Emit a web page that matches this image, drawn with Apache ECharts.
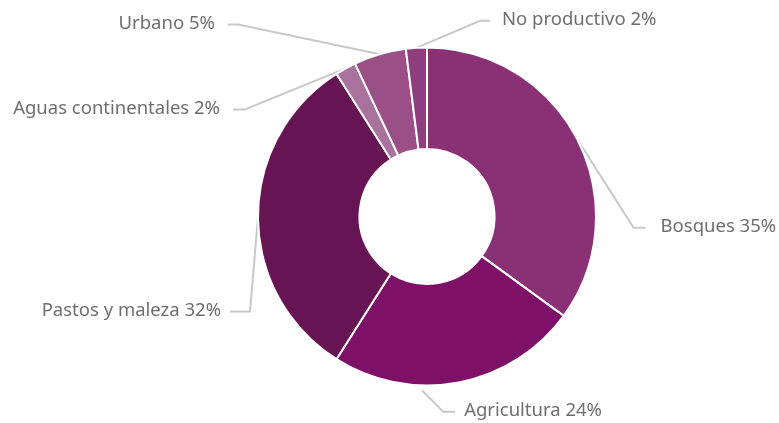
<!DOCTYPE html>
<html>
<head>
<meta charset="utf-8">
<script src="https://cdn.jsdelivr.net/npm/echarts@6/dist/echarts.min.js"></script>
<style>
html,body{margin:0;padding:0;background:#fff;}
#main{width:779px;height:423px;}
</style>
</head>
<body>
<div id="main"></div>
<script>
// ---- data ----
const categories = ['Bosques', 'Agricultura', 'Pastos y maleza', 'Aguas continentales', 'Urbano', 'No productivo'];
const values = [35, 24, 32, 2, 5, 2];
const colors = ['#8A3075', '#7E1068', '#661454', '#A9729D', '#9A5086', '#8E3D7E'];

// ---- layout / style ----
const CX = 427, CY = 216.5, R_OUT = 169, R_IN = 67.5;
// per label: connector start angle shift (deg), start pad, bend offset, horizontal length, text gap
const labelGuides = [
  { shift: 0,    pad: 0, bend: [56, 88],     horiz: 12,  gap: 15 },
  { shift: 12.4, pad: 5, bend: [21, 21.3],   horiz: 12,  gap: 9 },
  { shift: 0,    pad: 0, bend: [-8, 95],     horiz: -20, gap: 9 },
  { shift: 0,    pad: 0, bend: [-100.6, 41], horiz: -12, gap: 13 },
  { shift: 0,    pad: 0, bend: [-141.7, -29.7], horiz: -10.6, gap: 12.7 },
  { shift: 0,    pad: 0, bend: [63.6, -27.1], horiz: 10, gap: 12 }
];

const total = values.reduce((a, b) => a + b, 0);
const midAngles = [];
let acc = 0;
values.forEach(v => { midAngles.push((acc + v / 2) / total * 360); acc += v; });

const chart = echarts.init(document.getElementById('main'), null, { renderer: 'canvas' });

chart.setOption({
  backgroundColor: '#ffffff',
  animation: false,
  series: [{
    type: 'pie',
    center: [CX, CY],
    radius: [R_IN, R_OUT],
    startAngle: 90,
    clockwise: true,
    avoidLabelOverlap: false,
    itemStyle: { borderColor: '#ffffff', borderWidth: 2 },
    label: {
      show: true,
      position: 'outside',
      formatter: p => p.name + ' ' + p.value + '%',
      fontFamily: 'Noto Sans',
      fontSize: 18.5,
      color: '#6e6e6e'
    },
    labelLine: {
      show: true,
      lineStyle: { color: '#c8c8c8', width: 2 }
    },
    emphasis: { disabled: true },
    data: categories.map((c, i) => ({ name: c, value: values[i], itemStyle: { color: colors[i] } })),
    labelLayout: function (params) {
      const i = params.dataIndex;
      const g = labelGuides[i];
      const a = (midAngles[i] + g.shift) * Math.PI / 180;
      const r = R_OUT + g.pad;
      const p0 = [CX + r * Math.sin(a), CY - r * Math.cos(a)];
      const p1 = [p0[0] + g.bend[0], p0[1] + g.bend[1]];
      const p2 = [p1[0] + g.horiz, p1[1]];
      const right = g.horiz > 0;
      return {
        x: p2[0] + (right ? g.gap : -g.gap),
        y: p2[1] - 1,
        align: right ? 'left' : 'right',
        verticalAlign: 'middle',
        labelLinePoints: [p0, p1, p2]
      };
    }
  }]
});
</script>
</body>
</html>
